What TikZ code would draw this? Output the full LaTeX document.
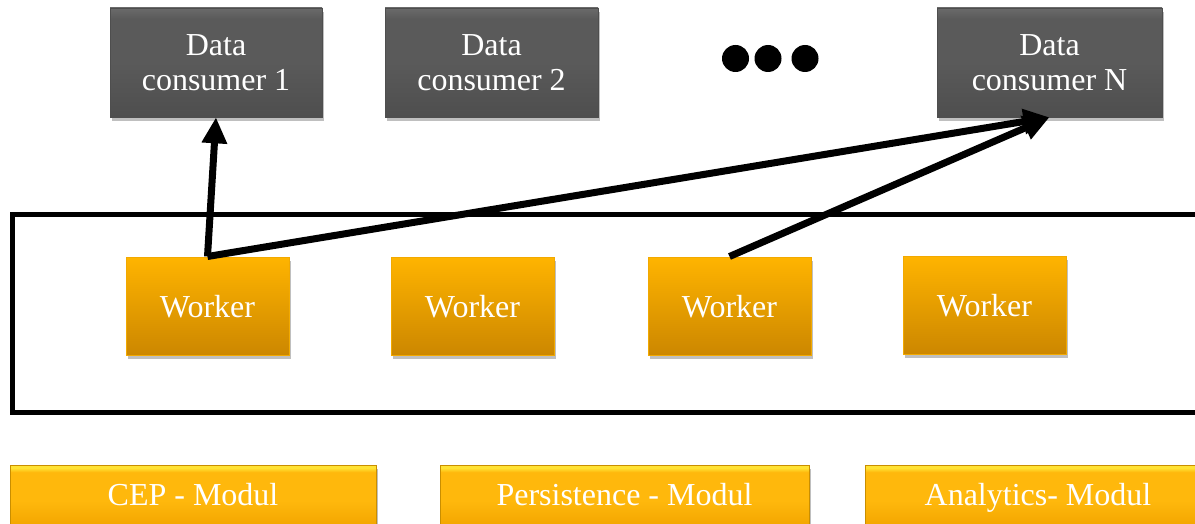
\documentclass[tikz,border=0pt]{standalone}
\usepackage{fontspec}
\setmainfont{Liberation Serif}
\usetikzlibrary{shadows,arrows.meta}

\definecolor{consumerTop}{HTML}{6A6A6A}
\definecolor{consumerMid}{HTML}{5A5A5A}
\definecolor{consumerBot}{HTML}{4E4E4E}
\definecolor{workerTop}{HTML}{FFB400}
\definecolor{workerBot}{HTML}{CC8700}
\definecolor{workerEdge}{HTML}{F2A900}
\definecolor{modTop}{HTML}{FFE234}
\definecolor{modMid}{HTML}{FFB80C}
\definecolor{modBot}{HTML}{F3A600}
\definecolor{modEdge}{HTML}{C98E00}

% module fill: bright bevel strip on top, amber body, slightly darker foot
\pgfdeclareverticalshading{modshade}{100bp}{%
  color(0bp)=(modBot); color(25bp)=(modBot); color(45bp)=(modMid);
  color(69bp)=(modMid); color(72.5bp)=(modTop); color(75bp)=(modTop);
  color(100bp)=(modTop)}
% consumer fill: lighter bevel on top, flat grey body
\pgfdeclareverticalshading{consshade}{100bp}{%
  color(0bp)=(consumerBot); color(25bp)=(consumerBot); color(50bp)=(consumerMid);
  color(70bp)=(consumerMid); color(75bp)=(consumerTop); color(100bp)=(consumerTop)}

\begin{document}
\begin{tikzpicture}[x=1pt,y=-1pt,
  bigtext/.style={text=white, align=center, font=\fontsize{32}{35}\selectfont, inner sep=0pt},
  softshadow/.style={drop shadow={shadow xshift=2pt, shadow yshift=-4pt, opacity=0.25, fill=black}},
  consumer/.style={bigtext, softshadow, draw=consumerBot, line width=0.6pt,
    shading=consshade, minimum height=109pt},
  worker/.style={bigtext, softshadow, draw=workerEdge, line width=1pt,
    top color=workerTop, bottom color=workerBot, minimum width=163pt, minimum height=98pt,
    text height=22pt, text depth=0pt},
  modulebox/.style={bigtext, softshadow, draw=modEdge, line width=0.6pt,
    shading=modshade, minimum height=60pt, text height=20pt, text depth=0pt},
  dot/.style={circle, fill=black, inner sep=0pt, minimum size=27pt},
  pool/.style={draw=black, line width=5pt, inner sep=0pt},
  flow/.style={draw=black, line width=7pt, -{Triangle[length=26pt,width=24pt]}}
]
\useasboundingbox (0,0) rectangle (1195,524);

% worker pool frame (open to the right)
\node[pool, minimum width=1200pt, minimum height=197pt] (poolbox) at (612,313.5) {};

% data consumers
\node[consumer, minimum width=212pt] (dc1) at (216,62.5) {Data\\consumer 1};
\node[consumer, minimum width=213pt] (dc2) at (491.5,62.5) {Data\\consumer 2};
\node[consumer, minimum width=225pt] (dcn) at (1049.5,62.5) {Data\\consumer N};

% ellipsis dots
\node[dot] (d1) at (735.5,58.5) {};
\node[dot] (d2) at (768,58.5) {};
\node[dot] (d3) at (805,58.5) {};

% workers
\node[worker] (w1) at (207.5,306) {Worker};
\node[worker] (w2) at (472.5,306) {Worker};
\node[worker] (w3) at (729.5,306) {Worker};
\node[worker] (w4) at (984.5,305) {Worker};

% modules
\node[modulebox, minimum width=366pt] (m1) at (193,495) {CEP - Modul};
\node[modulebox, minimum width=369pt] (m2) at (624.5,495) {Persistence - Modul};
\node[modulebox, minimum width=346pt] (m3) at (1038,495) {Analytics- Modul};

% data flow
\draw[flow] (w1.north) -- (dc1.south);
\draw[flow] (w1.north) -- (dcn.south);
\draw[flow] (w3.north) -- (dcn.south);
\end{tikzpicture}
\end{document}
